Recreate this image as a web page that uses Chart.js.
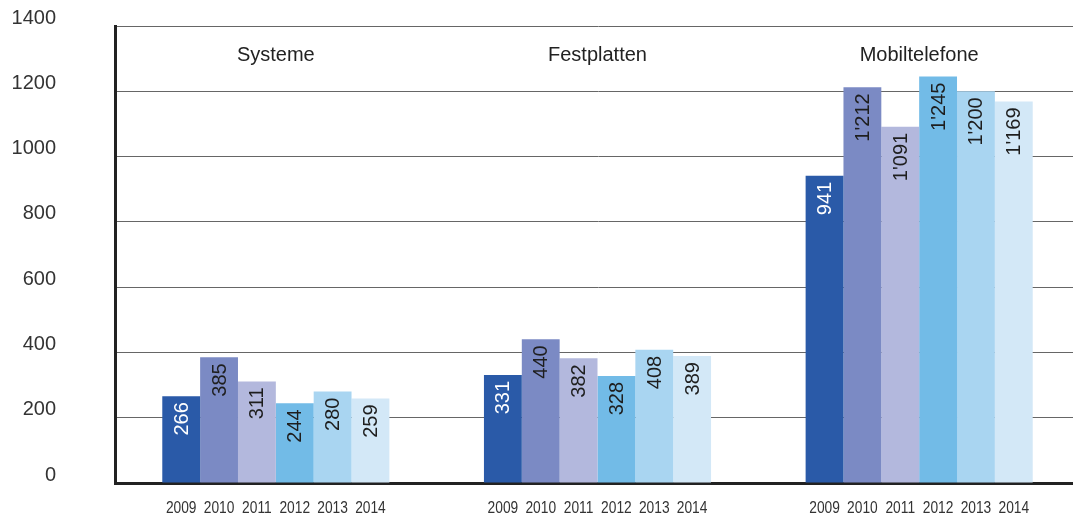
<!DOCTYPE html>
<html>
<head>
<meta charset="utf-8">
<script src="https://cdn.jsdelivr.net/npm/chart.js@4/dist/chart.umd.min.js"></script>
<style>
  html, body { margin: 0; padding: 0; background: #fff; overflow: hidden; }
  #wrap { width: 1080px; height: 518px; }
</style>
</head>
<body>
<div id="wrap"><canvas id="chart" width="1080" height="518"></canvas></div>
<script>
// ===== Data =====
const categories = ["Systeme", "Festplatten", "Mobiltelefone"];
const years = ["2009", "2010", "2011", "2012", "2013", "2014"];
const values2009 = [266, 331, 941];
const values2010 = [385, 440, 1212];
const values2011 = [311, 382, 1091];
const values2012 = [244, 328, 1245];
const values2013 = [280, 408, 1200];
const values2014 = [259, 389, 1169];
const yTicks = [0, 200, 400, 600, 800, 1000, 1200, 1400];

const seriesValues = [values2009, values2010, values2011, values2012, values2013, values2014];
const barColors = ["#2a5aa8", "#7b8ac4", "#b3b8dd", "#72bbe7", "#a9d5f1", "#d3e8f7"];
const labelColors = ["#ffffff", "#1e1e1e", "#1e1e1e", "#1e1e1e", "#1e1e1e", "#1e1e1e"];

const FONT = "'Liberation Sans', Arial, Helvetica, sans-serif";

// 1'212 style thousands separator
function fmt(v) {
    return String(v).replace(/\B(?=(\d{3})+(?!\d))/g, "'");
}

// ===== Label plugin: values in bars, years under bars, group titles =====
const labelPlugin = {
    id: "labels",
    afterDatasetsDraw(chart) {
        const ctx = chart.ctx;
        const xScale = chart.scales.x;
        const area = chart.chartArea;

        chart.data.datasets.forEach((ds, i) => {
            const meta = chart.getDatasetMeta(i);
            meta.data.forEach((bar, j) => {
                // value, rotated, anchored near the top of the bar
                ctx.save();
                ctx.translate(bar.x, bar.y + 6);
                ctx.rotate(-Math.PI / 2);
                ctx.font = "20px " + FONT;
                ctx.fillStyle = labelColors[i];
                ctx.textAlign = "right";
                ctx.textBaseline = "middle";
                ctx.fillText(fmt(ds.data[j]), 0, 1);
                ctx.restore();

                // year under each bar (slightly condensed)
                ctx.save();
                ctx.translate(bar.x, 509);
                ctx.scale(0.86, 1);
                ctx.font = "16px " + FONT;
                ctx.fillStyle = "#333";
                ctx.textAlign = "center";
                ctx.textBaseline = "middle";
                ctx.fillText(ds.label, 0, 0);
                ctx.restore();
            });
        });

        // group titles inside the plot
        ctx.save();
        ctx.font = "20px " + FONT;
        ctx.fillStyle = "#222";
        ctx.textAlign = "center";
        ctx.textBaseline = "middle";
        categories.forEach((c, k) => {
            ctx.fillText(c, xScale.getPixelForValue(k), area.top + 29);
        });
        ctx.restore();
    }
};

// ===== Chart =====
const datasets = years.map((y, i) => ({
    label: y,
    data: seriesValues[i],
    backgroundColor: barColors[i],
    borderWidth: 0,
    categoryPercentage: 0.706,
    barPercentage: 1.0
}));

new Chart(document.getElementById("chart").getContext("2d"), {
    type: "bar",
    data: { labels: categories, datasets: datasets },
    options: {
        responsive: false,
        animation: false,
        layout: { padding: { top: 26, right: 0, bottom: 0, left: 0 } },
        plugins: {
            legend: { display: false },
            tooltip: { enabled: false }
        },
        scales: {
            x: {
                grid: { display: false },
                border: { display: true, color: "#222", width: 3 },
                ticks: { display: false },
                afterFit(scale) {
                    scale.height = 35;
                    scale.paddingLeft = 0;
                    scale.paddingRight = 0;
                }
            },
            y: {
                min: 0,
                max: 1400,
                afterBuildTicks(scale) { scale.ticks = yTicks.map(v => ({ value: v })); },
                grid: { color: "#666", lineWidth: 1, drawTicks: false },
                border: { display: true, color: "#222", width: 3 },
                ticks: {
                    padding: 59,
                    labelOffset: -8,
                    color: "#333",
                    font: { family: FONT, size: 20 },
                    callback: v => String(v)
                },
                afterFit(scale) {
                    scale.width = 115;
                    scale.paddingTop = 0;
                    scale.paddingBottom = 0;
                }
            }
        }
    },
    plugins: [labelPlugin]
});
</script>
</body>
</html>
